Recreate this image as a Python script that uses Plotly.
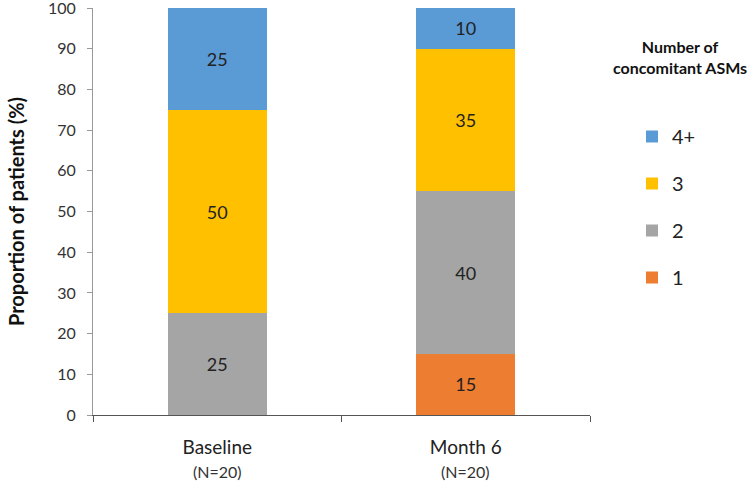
import plotly.graph_objects as go

categories = ["Baseline", "Month 6"]
n_labels = ["(N=20)", "(N=20)"]
series_names = ["1", "2", "3", "4+"]
values_1 = [0, 15]
values_2 = [25, 40]
values_3 = [50, 35]
values_4plus = [25, 10]
colors = ["#ED7D31", "#A5A5A5", "#FFC000", "#5B9BD5"]
y_ticks = list(range(0, 101, 10))

series = [values_1, values_2, values_3, values_4plus]

FONT = "Lato"
L, R, T, B = 93, 160, 8, 70
PW, PH = 750 - L - R, 485 - T - B

fig = go.Figure()
for i, (name, vals, col) in enumerate(zip(series_names, series, colors)):
    fig.add_trace(go.Bar(
        x=categories, y=vals, name=name, marker_color=col,
        marker_line_width=0,
        text=[str(v) if v else "" for v in vals],
        textposition="inside", insidetextanchor="middle",
        textfont=dict(family=FONT, size=18, color="#222"),
        legendgroup=name, legendrank=len(series_names) - i, width=0.4,
    ))

fig.update_layout(
    barmode="stack",
    width=750, height=485,
    margin=dict(l=L, r=R, t=T, b=B, autoexpand=False),
    plot_bgcolor="white", paper_bgcolor="white",
    font=dict(family=FONT, size=15, color="#333"),
    showlegend=True,
    legend=dict(x=(632 - L) / PW, y=(485 - B - 117) / PH, xanchor="left", yanchor="top",
                traceorder="grouped", tracegroupgap=18,
                font=dict(family=FONT, size=20, color="#222"),
                itemwidth=30),
    uniformtext=dict(mode="show", minsize=10),
)
fig.update_yaxes(
    range=[0, 100], tickvals=y_ticks, showgrid=False, automargin=False,
    showline=True, linecolor="#999", linewidth=1,
    ticks="outside", ticklen=5, tickcolor="#999", ticklabeloverflow="allow",
    ticklabelstandoff=8,
    tickfont=dict(family=FONT, size=16, color="#333"),
    title=dict(text="<b>Proportion of patients (%)</b>",
               font=dict(family=FONT, size=20, color="#111"), standoff=17),
)
fig.update_xaxes(
    showgrid=False, showline=True, linecolor="#555", linewidth=1, automargin=False,
    ticks="outside", tickson="boundaries", ticklen=6, tickcolor="#555",
    ticklabelstandoff=15,
    tickfont=dict(family=FONT, size=19, color="#222"),
)
for c, n in zip(categories, n_labels):
    fig.add_annotation(x=c, xref="x", y=(485 - B - 471) / PH, yref="paper", text=n,
                       showarrow=False, yanchor="middle",
                       font=dict(family=FONT, size=16, color="#333"))
fig.add_annotation(x=(680 - L) / PW, xref="paper", y=(485 - B - 57) / PH, yref="paper",
                   text="<b>Number of<br>concomitant ASMs</b>",
                   showarrow=False, xanchor="center", yanchor="middle",
                   font=dict(family=FONT, size=16, color="#111"))

fig.write_html("out.html", config={"displayModeBar": False},
               post_script="document.body.style.margin='0';document.body.style.overflow='hidden';")
